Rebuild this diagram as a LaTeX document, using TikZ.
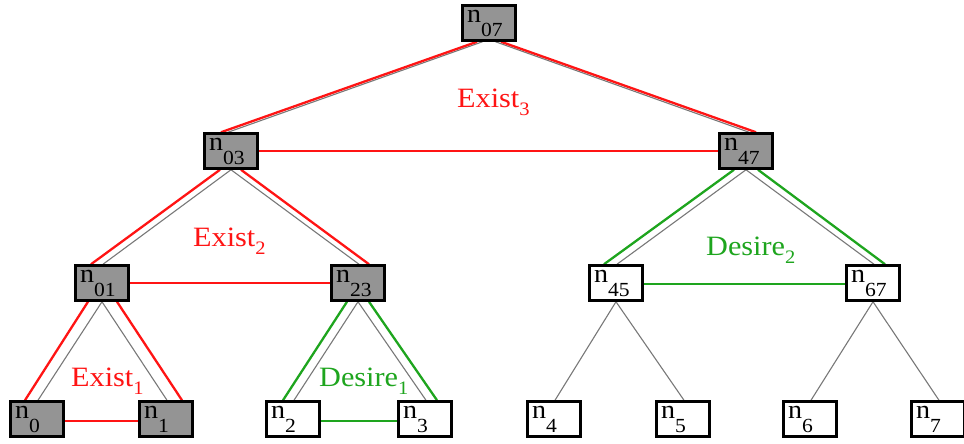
\documentclass[tikz,border=0pt]{standalone}
\usepackage{fontspec}
\setmainfont{Liberation Serif}[FakeStretch=1.08]
\usetikzlibrary{backgrounds}
\definecolor{boxgray}{RGB}{148,148,148}
\definecolor{myred}{RGB}{255,20,20}
\definecolor{mygreen}{RGB}{30,165,30}
\definecolor{thingray}{RGB}{120,120,120}
\newcommand{\mynd}[1]{n\raisebox{-14pt}{\fontsize{20}{20}\selectfont #1}}
\newcommand{\mylab}[2]{#1\raisebox{-8pt}{\fontsize{19}{19}\selectfont #2}}
\tikzset{
  tbox/.style={draw, line width=2.5pt, minimum width=53pt, minimum height=35pt,
    text width=44pt, align=left, inner xsep=4.5pt, inner ysep=0pt,
    font=\fontsize{26}{26}\selectfont, fill=white},
  gbox/.style={tbox, fill=boxgray},
  thin gray/.style={draw=thingray, line width=1.1pt},
  redline/.style={draw=myred, line width=2.3pt},
  greenline/.style={draw=mygreen, line width=2.3pt},
  lab/.style={anchor=base west, inner sep=0pt, font=\fontsize{28}{28}\selectfont}
}
\begin{document}
\begin{tikzpicture}[x=1pt,y=-1pt]
\useasboundingbox (0,0) rectangle (964,444);
% nodes
\node[gbox] (n07) at (489,23) {\mynd{07}};
\node[gbox] (n03) at (231,151) {\mynd{03}};
\node[gbox] (n47) at (746,151) {\mynd{47}};
\node[gbox] (n01) at (102,283) {\mynd{01}};
\node[gbox] (n23) at (358,283) {\mynd{23}};
\node[tbox] (n45) at (616,283) {\mynd{45}};
\node[tbox] (n67) at (873,283) {\mynd{67}};
\node[gbox] (n0) at (37,419) {\mynd{0}};
\node[gbox] (n1) at (166,419) {\mynd{1}};
\node[tbox] (n2) at (293,419) {\mynd{2}};
\node[tbox] (n3) at (425,419) {\mynd{3}};
\node[tbox] (n4) at (554,419) {\mynd{4}};
\node[tbox] (n5) at (683,419) {\mynd{5}};
\node[tbox] (n6) at (810,419) {\mynd{6}};
\node[tbox] (n7) at (938,419) {\mynd{7}};
% labels
\node[lab, text=myred] (e3) at (457,107) {\mylab{Exist}{3}};
\node[lab, text=myred] (e2) at (193,246) {\mylab{Exist}{2}};
\node[lab, text=myred] (e1) at (71,386) {\mylab{Exist}{1}};
\node[lab, text=mygreen] (d1) at (319,386) {\mylab{Desire}{1}};
\node[lab, text=mygreen] (d2) at (706,255) {\mylab{Desire}{2}};
\begin{pgfonlayer}{background}
% gray tree edges
\draw[thin gray] ([xshift=-6.5pt]n07.south) -- ([xshift=-3pt]n03.north);
\draw[thin gray] ([xshift=6.5pt]n07.south) -- ([xshift=3pt]n47.north);
\foreach \p/\a/\b in {n03/n01/n23, n47/n45/n67, n01/n0/n1, n23/n2/n3, n45/n4/n5, n67/n6/n7}{
  \draw[thin gray] (\p.south) -- ([xshift=1pt]\a.north);
  \draw[thin gray] (\p.south) -- ([xshift=1pt]\b.north);
}
% coloured parallel edges
\draw[redline] ([xshift=-12pt]n07.south) -- ([xshift=-10pt]n03.north);
\draw[redline] ([xshift=12pt]n07.south) -- ([xshift=10pt]n47.north);
\draw[redline] ([xshift=-11pt]n03.south) -- ([xshift=-11pt]n01.north);
\draw[redline] ([xshift=10pt]n03.south) -- ([xshift=11pt]n23.north);
\draw[greenline] ([xshift=-12pt]n47.south) -- ([xshift=-12pt]n45.north);
\draw[greenline] ([xshift=12pt]n47.south) -- ([xshift=12pt]n67.north);
\draw[redline] ([xshift=-14pt]n01.south) -- ([xshift=-12pt]n0.north);
\draw[redline] ([xshift=15pt]n01.south) -- ([xshift=16pt]n1.north);
\draw[greenline] ([xshift=-11pt]n23.south) -- ([xshift=-10pt]n2.north);
\draw[greenline] ([xshift=11pt]n23.south) -- ([xshift=12pt]n3.north);
% horizontal links
\draw[redline] (n03) -- (n47);
\draw[redline] (n01) -- (n23);
\draw[greenline] ([yshift=-1pt]n45.center) -- ([yshift=-1pt]n67.center);
\draw[redline] ([yshift=-2pt]n0.center) -- ([yshift=-2pt]n1.center);
\draw[greenline] ([yshift=-2pt]n2.center) -- ([yshift=-2pt]n3.center);
\end{pgfonlayer}
\end{tikzpicture}
\end{document}
